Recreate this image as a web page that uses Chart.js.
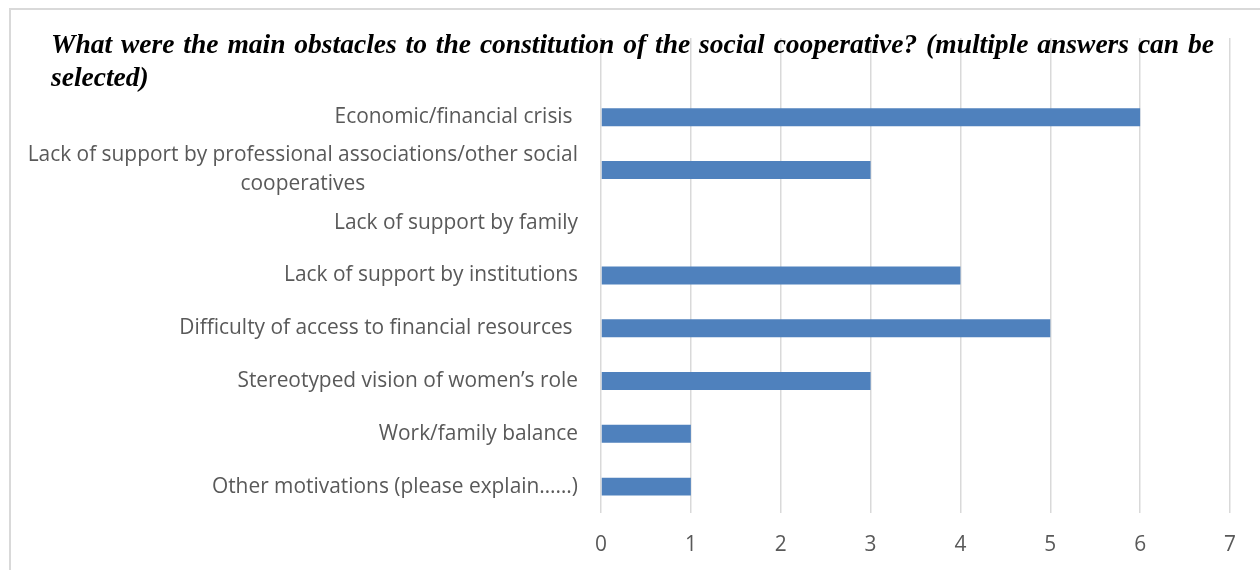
<!DOCTYPE html>
<html>
<head>
<meta charset="utf-8">
<script src="https://cdn.jsdelivr.net/npm/chart.js@4.4.1/dist/chart.umd.min.js"></script>
<style>
  html, body { margin: 0; padding: 0; background: #ffffff; }
  body { width: 1260px; height: 570px; position: relative; overflow: hidden; }
  #frame { position: absolute; left: 9px; top: 8px; width: 1260px; height: 570px;
           border-top: 2px solid #d9d9d9; border-left: 2px solid #d9d9d9; box-sizing: border-box; }
  #wrap { position: absolute; left: 0; top: 0; width: 1260px; height: 570px; }
  #title { position: absolute; left: 51px; top: 27px; width: 1163px;
           font-family: "Liberation Serif", "Times New Roman", serif; font-weight: bold; font-style: italic;
           font-size: 27.5px; line-height: 33px; color: #000; pointer-events: none; z-index: 2; }
  #title .l1 { text-align: justify; text-align-last: justify; white-space: normal; }
</style>
</head>
<body>
<div id="frame"></div>
<div id="wrap"><canvas id="c"></canvas></div>
<div id="title"><div class="l1">What were the main obstacles to the constitution of the social cooperative? (multiple answers can be</div><div class="l2">selected)</div></div>
<script>
const categories = [
  '',
  'Economic/financial crisis ',
  ['Lack of support by professional associations/other social', 'cooperatives'],
  'Lack of support by family',
  'Lack of support by institutions',
  'Difficulty of access to financial resources ',
  'Stereotyped vision of women\u2019s role',
  'Work/family balance',
  'Other motivations (please explain\u2026\u2026)'
];
const values = [null, 6, 3, 0, 4, 5, 3, 1, 1];
const xTicks = [0, 1, 2, 3, 4, 5, 6, 7];

const LABEL_FONT = '20.9px "Open Sans", sans-serif';
const LABEL_COLOR = '#595959';

const yLabelPlugin = {
  id: 'yLabels',
  afterDraw(chart) {
    const y = chart.scales.y;
    const ctx = chart.ctx;
    ctx.save();
    ctx.font = LABEL_FONT;
    ctx.fillStyle = LABEL_COLOR;
    ctx.textBaseline = 'middle';
    const right = chart.chartArea.left - 23;
    const lineH = 29;
    categories.forEach((lab, i) => {
      const lines = Array.isArray(lab) ? lab : [lab];
      const cy = y.getPixelForValue(i);
      const w = Math.max(...lines.map(l => ctx.measureText(l).width));
      lines.forEach((l, j) => {
        const ly = cy + (j - (lines.length - 1) / 2) * lineH;
        if (lines.length > 1) {
          ctx.textAlign = 'center';
          ctx.fillText(l, right - w / 2, ly);
        } else {
          ctx.textAlign = 'right';
          ctx.fillText(l, right, ly);
        }
      });
    });
    ctx.restore();
  }
};

new Chart(document.getElementById('c'), {
  type: 'bar',
  data: {
    labels: categories,
    datasets: [{
      data: values,
      backgroundColor: '#4f81bd',
      borderWidth: 0,
      categoryPercentage: 1.0,
      barPercentage: 0.34
    }]
  },
  options: {
    indexAxis: 'y',
    responsive: true,
    maintainAspectRatio: false,
    animation: false,
    layout: { padding: { top: 38, right: 30, left: 0, bottom: 0 } },
    plugins: { legend: { display: false }, tooltip: { enabled: false }, title: { display: false } },
    scales: {
      x: {
        min: 0, max: 7,
        afterBuildTicks: (s) => { s.ticks = xTicks.map(v => ({ value: v })); },
        grid: { color: '#d9d9d9', lineWidth: 1.5, drawTicks: false },
        border: { display: false },
        ticks: { color: LABEL_COLOR, font: { family: '"Open Sans", sans-serif', size: 20.9 }, padding: 20 },
        afterFit: (s) => { s.height = 57; }
      },
      y: {
        grid: { display: false },
        border: { display: false },
        ticks: { display: false },
        afterFit: (s) => { s.width = 601; }
      }
    }
  },
  plugins: [yLabelPlugin]
});
</script>
</body>
</html>
